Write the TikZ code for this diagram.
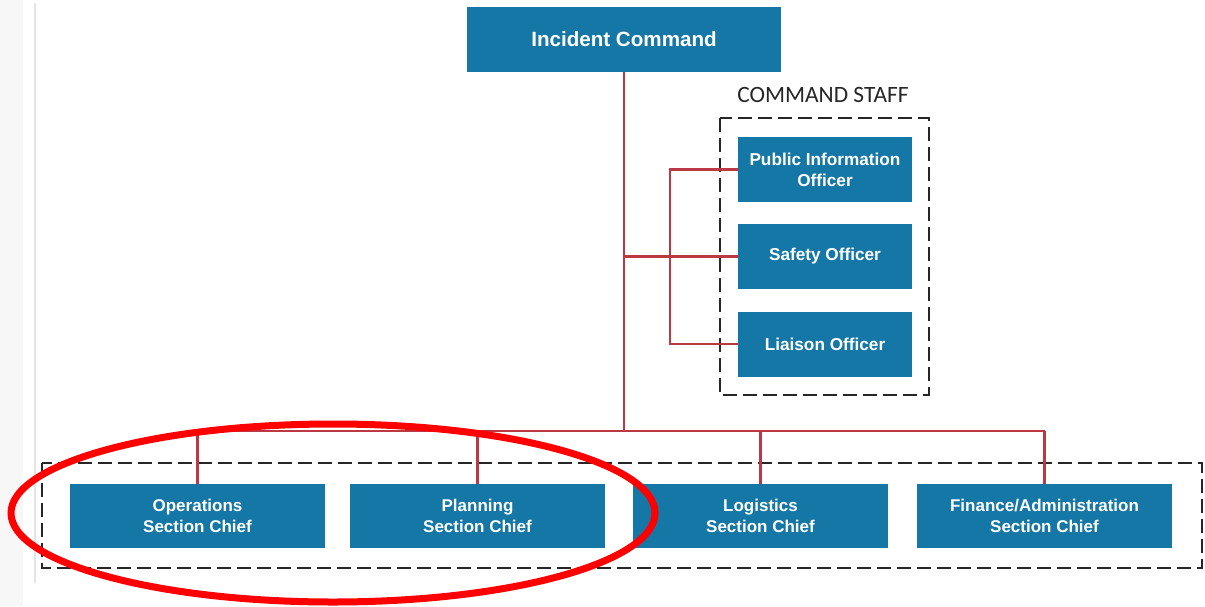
\documentclass[tikz,border=0pt]{standalone}
\usepackage{fontspec}
\setmainfont{Liberation Sans}
\newfontfamily\calib{Carlito}
\definecolor{boxblue}{RGB}{21,119,166}
\definecolor{linered}{RGB}{188,56,66}
\begin{document}
\begin{tikzpicture}[x=1pt,y=-1pt,
  box/.style={fill=boxblue, text=white, inner sep=0pt, align=center},
  topbox/.style={box, minimum width=314pt, minimum height=65pt, font=\bfseries\fontsize{20.6}{24}\selectfont},
  staffbox/.style={box, minimum width=174pt, minimum height=65pt, font=\bfseries\fontsize{17.2}{21}\selectfont},
  secbox/.style={box, minimum width=255pt, minimum height=64pt, font=\bfseries\fontsize{17}{21}\selectfont},
  conn/.style={draw=linered, line width=2.3pt},
  dashbox/.style={draw=black!85, line width=2pt, dash pattern=on 14pt off 6pt},
  highlight/.style={draw=red, line width=7pt}]
\useasboundingbox (0,0) rectangle (1205,606);
\fill[white] (0,0) rectangle (1205,606);
\fill[black!3] (0,0) rectangle (23,606);
\draw[black!10, line width=1.5pt] (35,3) -- (35,583);

% nodes
\node[topbox] (ic) at (624,39.5) {Incident Command};
\node[staffbox] (pio) at (825,169.5) {Public Information\\Officer};
\node[staffbox] (so) at (825,256.5) {Safety Officer};
\node[staffbox] (lo) at (825,344) {Liaison Officer};
\node[secbox] (ops) at (197.5,516) {Operations\\Section Chief};
\node[secbox] (pln) at (477.5,516) {Planning\\Section Chief};
\node[secbox] (log) at (760.5,516) {Logistics\\Section Chief};
\node[secbox] (fin) at (1044.5,516) {Finance/Administration\\Section Chief};

\node[font=\calib\fontsize{23.4}{27}\selectfont, text=black!85] (cslabel) at (823,95) {COMMAND STAFF};

% dashed groups
\draw[dashbox] (720,118) rectangle (929,395);
\draw[dashbox] (42,463) rectangle (1202,568);

% connectors
\coordinate (jb) at (624,431);
\coordinate (js) at (624,256.5);
\coordinate (sv) at (670,256.5);
\draw[conn] (ic.south) -- (jb);
\draw[conn] (js) -- (so.west);
\draw[conn] (pio.west) -- (pio.west -| sv) -- (lo.west -| sv) -- (lo.west);
\draw[conn] (ops.north |- jb) -- (fin.north |- jb);
\draw[conn] (ops.north |- jb) -- (ops.north);
\draw[conn] (pln.north |- jb) -- (pln.north);
\draw[conn] (log.north |- jb) -- (log.north);
\draw[conn] (fin.north |- jb) -- (fin.north);

% highlight ellipse
\draw[highlight] (333,513) ellipse [x radius=322pt, y radius=89pt];
\end{tikzpicture}
\end{document}
